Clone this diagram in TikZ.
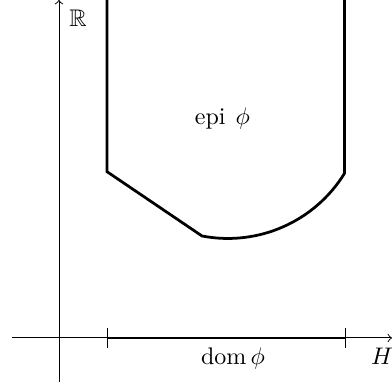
\documentclass[tikz,border=0pt]{standalone}
\usepackage{amsmath}
\usepackage{amssymb}
\begin{document}
\begin{tikzpicture}[x=0.41667pt,y=0.41667pt,
  axis/.style={line width=0.4pt},
  bold/.style={line width=1.15pt},
  tick/.style={line width=0.4pt},
  lbl/.style={inner sep=0pt,anchor=base}]
\useasboundingbox (0,0) rectangle (392,388);
% coordinates (y up: y = 388 - pixel row)
\coordinate (xs) at (12,50);
\coordinate (xe) at (392,50);
\coordinate (ys) at (59,6);
\coordinate (ye) at (59,388);
\coordinate (a) at (107,50);
\coordinate (b) at (345,50);
\coordinate (ta) at (107,388);
\coordinate (c1) at (107,216.3);
\coordinate (c2) at (202,152);
\coordinate (tb) at (344.6,388);
% axes
\draw[axis,->] (xs) -- (xe);
\draw[axis,->] (ys) -- (ye);
% domain
\draw[bold] (a) -- (b);
\draw[tick] ([yshift=-4]a) -- ([yshift=4]a);
\draw[tick] ([yshift=-4]b) -- ([yshift=4]b);
% epigraph boundary
\draw[bold,line join=miter] (ta) -- (c1) -- (c2) arc[start angle=-100.9,end angle=-31.6,radius=137] -- (tb);
% labels
\node[lbl] (R) at (78,361) {$\mathbb{R}$};
\node[lbl] (epi) at (222.5,263) {epi\hspace{4.2pt}$\phi$};
\node[lbl] (dom) at (233,23) {$\operatorname{dom}\phi$};
\node[lbl] (H) at (382,23) {$H$};
\end{tikzpicture}
\end{document}
